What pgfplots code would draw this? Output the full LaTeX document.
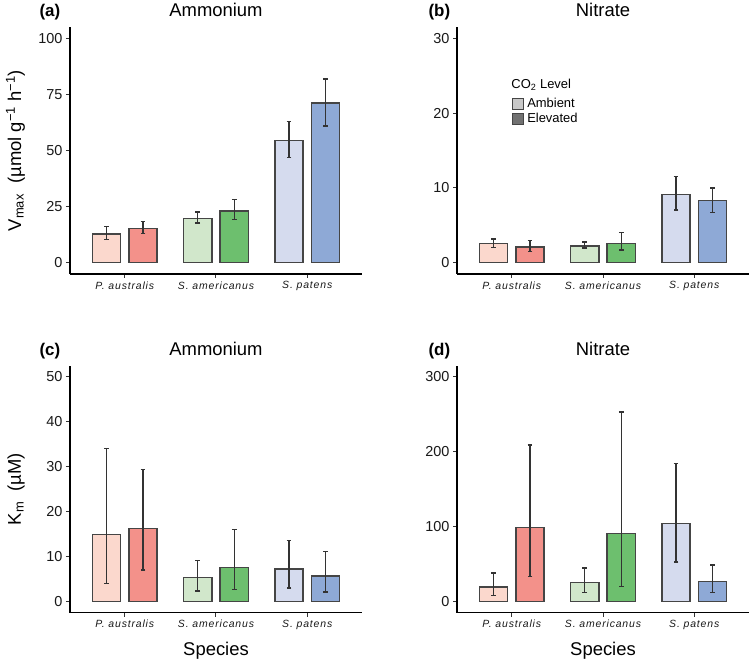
\documentclass[border=0pt]{standalone}
\usepackage{fontspec}
\setmainfont{Liberation Sans}
\newfontfamily\tickit[LetterSpace=8]{Liberation Sans}
\usepackage{pgfplots}
\usepackage{pgfplotstable}
\pgfplotsset{compat=1.18}

\definecolor{paA}{HTML}{FBD8CD}
\definecolor{paE}{HTML}{F3918A}
\definecolor{saA}{HTML}{D1E7CB}
\definecolor{saE}{HTML}{6DBF6E}
\definecolor{spA}{HTML}{D5DBEE}
\definecolor{spE}{HTML}{8EA9D6}
\definecolor{bardraw}{HTML}{454545}
\definecolor{errc}{HTML}{333333}
\definecolor{legA}{HTML}{C8C8C8}
\definecolor{legE}{HTML}{717171}

% columns: category, ambient value, ambient error-bar top, ambient error-bar bottom, elevated ...
\pgfplotstableread{
x amb ambhi amblo elev elevhi elevlo
0 12.8 16.1 10.5 15.3 18.3 13.1
1 19.8 22.6 17.7 23.1 28.2 19.2
2 54.6 62.8 46.9 71.1 81.9 60.9
}\tabA
\pgfplotstableread{
x amb ambhi amblo elev elevhi elevlo
0 2.53 3.16 2.05 2.09 2.93 1.52
1 2.26 2.76 1.96 2.62 4.00 1.69
2 9.15 11.5 7.06 8.31 10.0 6.75
}\tabB
\pgfplotstableread{
x amb ambhi amblo elev elevhi elevlo
0 14.9 34.1 4.0 16.3 29.4 7.0
1 5.4 9.2 2.3 7.6 16.1 2.6
2 7.2 13.6 3.0 5.7 11.1 2.1
}\tabC
\pgfplotstableread{
x amb ambhi amblo elev elevhi elevlo
0 19.4 38 8 99.2 209 33.6
1 25.2 44.7 12.4 91.2 253 19.9
2 104 184 52.7 27 48.7 12
}\tabD

\pgfplotsset{
  table/ambcols/.style={x=x, y=amb, y error plus expr=\thisrow{ambhi}-\thisrow{amb}, y error minus expr=\thisrow{amb}-\thisrow{amblo}},
  table/elevcols/.style={x=x, y=elev, y error plus expr=\thisrow{elevhi}-\thisrow{elev}, y error minus expr=\thisrow{elev}-\thisrow{elevlo}},
  onebar/.style={forget plot, draw=bardraw, line width=1.3bp, bar width=0.31,
    error bars/y dir=both, error bars/y explicit,
    error bars/error bar style={line width=1.3bp, color=errc, solid},
    error bars/error mark options={rotate=90, mark size=2.3bp, line width=1.3bp, color=errc}},
  r0/.style={skip coords between index={1}{3}},
  r1/.style={skip coords between index={0}{1}, skip coords between index={2}{3}},
  r2/.style={skip coords between index={0}{2}},
  every axis title shift=0pt,
  common/.style={
    scale only axis, width=292bp, height=247bp, ybar, clip=false,
    axis x line=bottom, axis y line=left,
    axis line style={-, line width=1.1bp, black},
    xmin=-0.6, xmax=2.6, xtick={0,1,2},
    xticklabels={P. australis, S. americanus, S. patens},
    tick align=outside, major tick length=4bp,
    tick style={line width=1bp, color=black!80},
    /pgf/number format/assume math mode=true,
    scaled y ticks=false,
    yticklabel style={font=\fontsize{14.5}{17}\selectfont, text=black!90},
    xticklabel style={font=\tickit\itshape\fontsize{10.5}{12}\selectfont, text=black!90},
    title style={font=\fontsize{18.5}{22}\selectfont, at={(0.5,1)}, anchor=base, yshift=10bp},
    ylabel style={font=\fontsize{18.5}{22}\selectfont, at={(axis description cs:0,0.5)}, anchor=base, yshift=49bp},
    xlabel style={font=\fontsize{18.5}{22}\selectfont, at={(axis description cs:0.5,0)}, anchor=base, yshift=-43bp},
  },
}

\newcommand{\drawbars}[1]{%
  \addplot[onebar, fill=paA, bar shift=-0.2, r0] table[ambcols] {#1};
  \addplot[onebar, fill=paE, bar shift=0.2, r0] table[elevcols] {#1};
  \addplot[onebar, fill=saA, bar shift=-0.2, r1] table[ambcols] {#1};
  \addplot[onebar, fill=saE, bar shift=0.2, r1] table[elevcols] {#1};
  \addplot[onebar, fill=spA, bar shift=-0.2, r2] table[ambcols] {#1};
  \addplot[onebar, fill=spE, bar shift=0.2, r2] table[elevcols] {#1};
}
\newcommand{\plabel}[2]{\node[anchor=base west, font=\bfseries\fontsize{17}{20}\selectfont] at ([xshift=#1, yshift=10bp]rel axis cs:0,1) {#2};}

\begin{document}
\begin{tikzpicture}
\useasboundingbox (0,0) rectangle (750bp,659bp);

% (a)
\begin{axis}[common, at={(70bp,385bp)}, anchor=south west,
  ymin=-5, ymax=105, ytick={0,25,50,75,100},
  title={Ammonium},
  ylabel={V\textsubscript{max}\ \ (µmol g\textsuperscript{−1} h\textsuperscript{−1})}]
\drawbars{\tabA}
\plabel{-34bp}{(a)}
\end{axis}

% (b)
\begin{axis}[common, at={(457bp,385bp)}, anchor=south west,
  ymin=-1.5, ymax=31.5, ytick={0,10,20,30},
  title={Nitrate},
  legend image code/.code={\draw[#1, line width=1.3bp, draw=bardraw] (0bp,-5.5bp) rectangle (11bp,5.5bp);},
  legend style={at={(axis cs:0,22.1)}, anchor=north west, draw=none, fill=none,
    font=\fontsize{13}{15}\selectfont, inner sep=0pt, row sep=2bp,
    nodes={inner sep=1bp},
    /tikz/every odd column/.style={column sep=2bp}},
  legend cell align=left]
\drawbars{\tabB}
\addlegendimage{fill=legA}
\addlegendentry{Ambient}
\addlegendimage{fill=legE}
\addlegendentry{Elevated}
\node[anchor=base west, font=\fontsize{13}{15}\selectfont, inner sep=0pt] at (axis cs:-0.005,23.3) {CO\textsubscript{2} Level};
\plabel{-32bp}{(b)}
\end{axis}

% (c)
\begin{axis}[common, at={(70bp,46.3bp)}, anchor=south west,
  ymin=-2.5, ymax=52.5, ytick={0,10,20,30,40,50},
  title={Ammonium}, xlabel={Species},
  ylabel={K\textsubscript{m}\ \ (µM)}]
\drawbars{\tabC}
\plabel{-34bp}{(c)}
\end{axis}

% (d)
\begin{axis}[common, at={(457bp,46.3bp)}, anchor=south west,
  ymin=-15, ymax=315, ytick={0,100,200,300},
  title={Nitrate}, xlabel={Species}]
\drawbars{\tabD}
\plabel{-32bp}{(d)}
\end{axis}
\end{tikzpicture}
\end{document}
